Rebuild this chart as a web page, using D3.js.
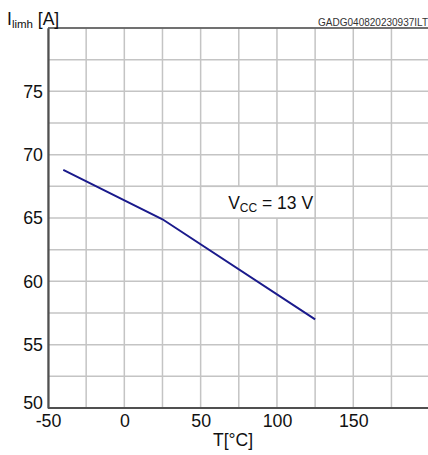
<!DOCTYPE html>
<html>
<head>
<meta charset="utf-8">
<script src="https://cdn.jsdelivr.net/npm/d3@7"></script>
<style>
  html, body { margin: 0; padding: 0; background: #fff; }
  svg { display: block; font-family: "Liberation Sans", Arial, sans-serif; }
</style>
</head>
<body>
<svg id="chart" width="428" height="455"></svg>
<script>
// Current limit vs. junction temperature at VCC = 13 V
const temperature = [-40, 25, 125];
const currentLimit = [68.8, 64.9, 57.0];

const xTicks = [-50, 0, 50, 100, 150];
const yTicks = [50, 55, 60, 65, 70, 75];
const xGrid = d3.range(-50, 201, 25);
const yGrid = d3.range(50, 80.1, 2.5);

const svg = d3.select("#chart");

const x = d3.scaleLinear().domain([-50, 200]).range([48, 429.6]);
const y = d3.scaleLinear().domain([50, 80]).range([408, 28]);

const gridColor = "#c4c4c4";
const axisColor = "#505050";

// grid
svg.append("g").selectAll("line").data(xGrid).join("line")
  .attr("x1", d => x(d)).attr("x2", d => x(d))
  .attr("y1", y(80)).attr("y2", y(50))
  .attr("stroke", gridColor).attr("stroke-width", 1.5);
svg.append("g").selectAll("line").data(yGrid).join("line")
  .attr("x1", x(-50)).attr("x2", x(200))
  .attr("y1", d => y(d)).attr("y2", d => y(d))
  .attr("stroke", gridColor).attr("stroke-width", 1.5);

// annotation box (white, covers grid)
svg.append("rect")
  .attr("x", x(50)).attr("y", y(67.5))
  .attr("width", x(125) - x(50)).attr("height", y(65) - y(67.5))
  .attr("fill", "#fff")
  .attr("stroke", gridColor).attr("stroke-width", 1.5);

const vcc = svg.append("text")
  .attr("x", x(125) - 2).attr("y", 208.5)
  .attr("text-anchor", "end")
  .attr("font-size", 17.5).attr("fill", "#111");
vcc.append("tspan").text("V");
vcc.append("tspan").attr("font-size", 12).attr("dy", 3).text("CC");
vcc.append("tspan").attr("dy", -3).text(" = 13 V");

// frame
svg.append("line")
  .attr("x1", x(-50)).attr("x2", 428)
  .attr("y1", y(80)).attr("y2", y(80))
  .attr("stroke", axisColor).attr("stroke-width", 1.5);

// axes
const xAxis = d3.axisBottom(x).tickValues(xTicks).tickFormat(d => String(d))
  .tickSize(0).tickPadding(6);
const gx = svg.append("g").attr("transform", `translate(0,${y(50)})`).call(xAxis);
gx.select(".domain").attr("stroke", axisColor).attr("stroke-width", 2.2)
  .attr("d", `M${x(-50)},0H428`);
gx.selectAll("text").attr("font-size", 17.8).attr("fill", "#111")
  .attr("font-family", "Liberation Sans, Arial, sans-serif");

const yAxis = d3.axisLeft(y).tickValues(yTicks).tickFormat(d => String(d))
  .tickSize(0).tickPadding(5);
const gy = svg.append("g").attr("transform", `translate(${x(-50)},0)`).call(yAxis);
gy.select(".domain").attr("stroke", axisColor).attr("stroke-width", 2.2);
gy.selectAll("text").attr("font-size", 17.8).attr("fill", "#111")
  .attr("font-family", "Liberation Sans, Arial, sans-serif");
// lowest label sits just above the x-axis labels
gy.selectAll(".tick").filter(d => d === 50).select("text").attr("y", -5);

// data line
svg.append("path")
  .datum(temperature.map((t, i) => [t, currentLimit[i]]))
  .attr("fill", "none")
  .attr("stroke", "#1a1a8c")
  .attr("stroke-width", 2)
  .attr("d", d3.line().x(d => x(d[0])).y(d => y(d[1])));

// axis titles
const yt = svg.append("text").attr("x", 7).attr("y", 25)
  .attr("font-size", 17.5).attr("fill", "#111");
yt.append("tspan").text("I");
yt.append("tspan").attr("font-size", 11.5).attr("dy", 3).text("limh");
yt.append("tspan").attr("dy", -3).text(" [A]");

svg.append("text").attr("x", 233).attr("y", 446)
  .attr("text-anchor", "middle").attr("font-size", 17.5).attr("fill", "#111")
  .text("T[°C]");

svg.append("text").attr("x", 428).attr("y", 26)
  .attr("text-anchor", "end").attr("font-size", 10).attr("fill", "#333")
  .text("GADG040820230937ILT");
</script>
</body>
</html>
